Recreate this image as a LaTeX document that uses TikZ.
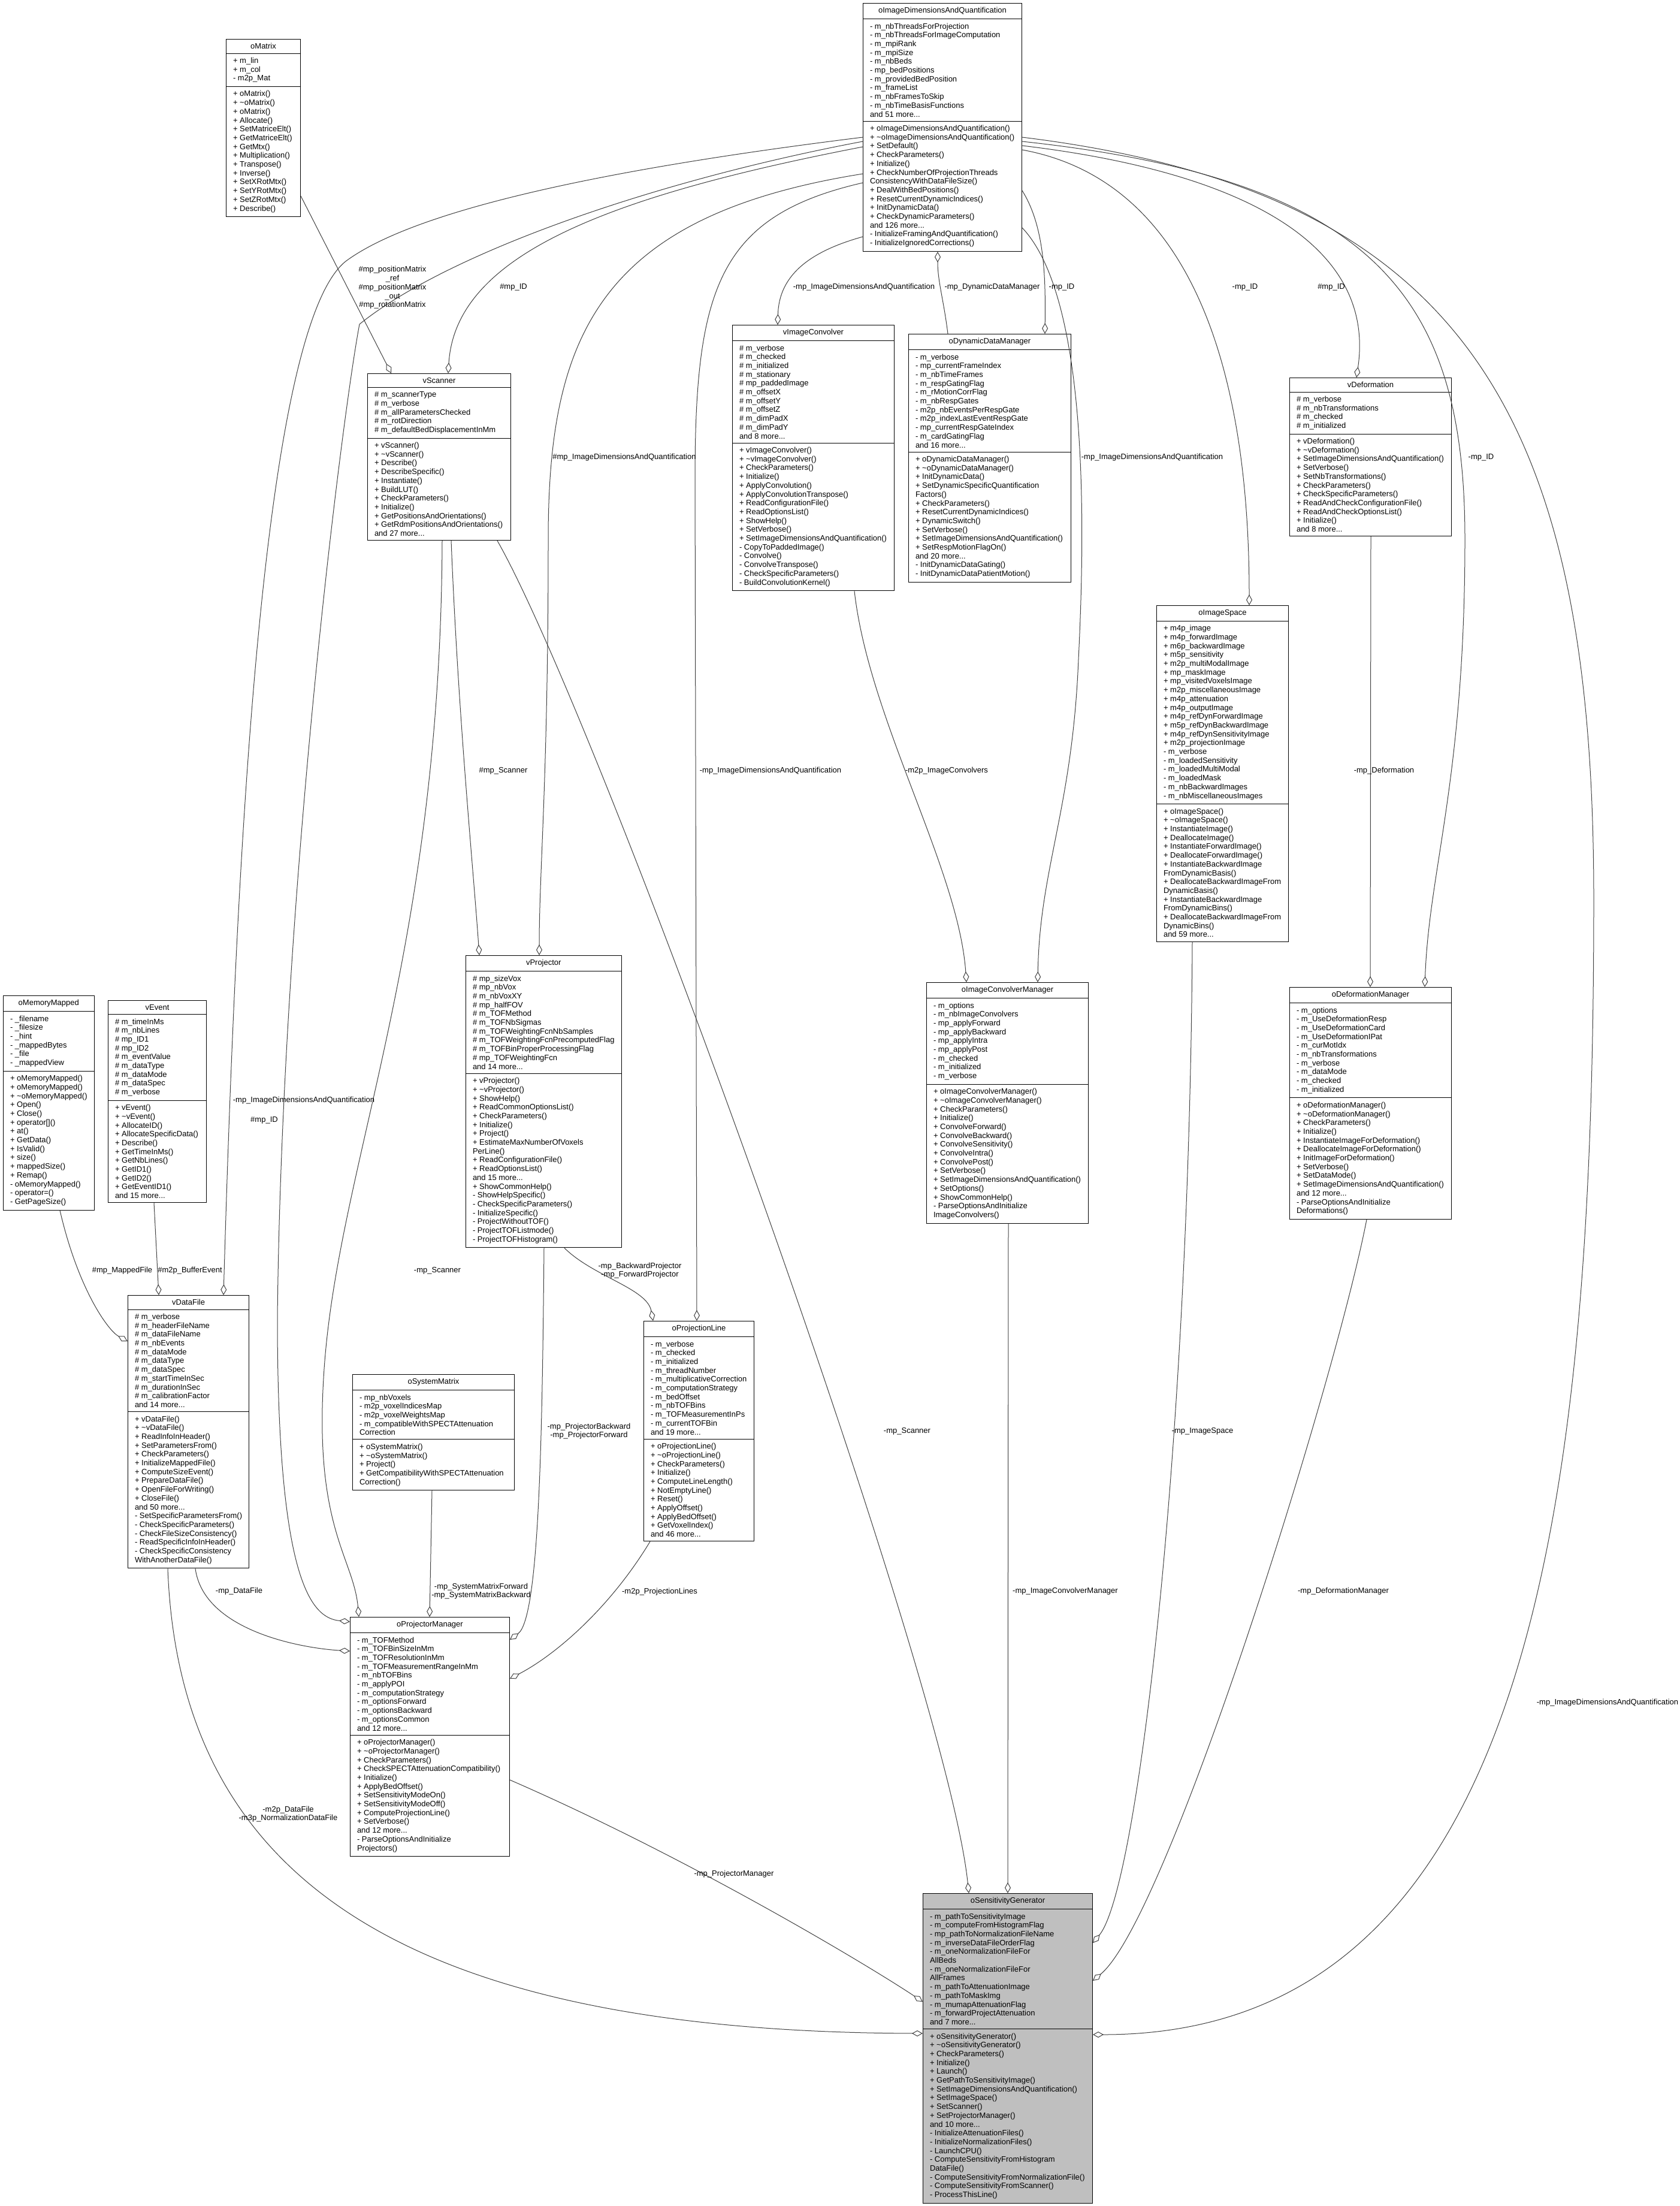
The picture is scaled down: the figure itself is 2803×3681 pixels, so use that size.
\documentclass[tikz,border=0pt]{standalone}
\usepackage{fontspec}
\setmainfont{Liberation Sans}
\usetikzlibrary{shapes.multipart, arrows.meta}
\definecolor{edgegray}{HTML}{404040}
\definecolor{hlgray}{HTML}{BFBFBF}
\newcommand{\umlfont}{\fontsize{13}{14.7}\selectfont}

\begin{document}
\begin{tikzpicture}[x=1pt, y=-1pt,
  umlclass/.style={rectangle split, rectangle split parts=3,
    rectangle split part align={center,left,left}, draw=black, line width=1pt,
    fill=white, align=left, anchor=north west, inner xsep=11.5pt, inner ysep=6.5pt,
    font=\umlfont},
  umlmain/.style={umlclass, fill=hlgray},
  uses/.style={draw=edgegray, line width=1pt, -{Diamond[open, length=18pt, width=10pt]}},
  role/.style={font=\umlfont, align=center, inner sep=0pt}]
	\useasboundingbox (0,0) rectangle (2803,3681);
	% Classes:
	\node[umlclass, minimum width=265pt] (idq) at (1440,5) {oImageDimensionsAndQuantification
		\nodepart{second}- m\_nbThreadsForProjection\\- m\_nbThreadsForImageComputation\\- m\_mpiRank\\- m\_mpiSize\\- m\_nbBeds\\- mp\_bedPositions\\- m\_providedBedPosition\\- m\_frameList\\- m\_nbFramesToSkip\\- m\_nbTimeBasisFunctions\\and 51 more...
		\nodepart{third}+ oImageDimensionsAndQuantification()\\+ \textasciitilde oImageDimensionsAndQuantification()\\+ SetDefault()\\+ CheckParameters()\\+ Initialize()\\+ CheckNumberOfProjectionThreads\\ConsistencyWithDataFileSize()\\+ DealWithBedPositions()\\+ ResetCurrentDynamicIndices()\\+ InitDynamicData()\\+ CheckDynamicParameters()\\and 126 more...\\- InitializeFramingAndQuantification()\\- InitializeIgnoredCorrections()};
	\node[umlclass, minimum width=124pt] (matrix) at (377,65) {oMatrix
		\nodepart{second}+ m\_lin\\+ m\_col\\- m2p\_Mat
		\nodepart{third}+ oMatrix()\\+ \textasciitilde oMatrix()\\+ oMatrix()\\+ Allocate()\\+ SetMatriceElt()\\+ GetMatriceElt()\\+ GetMtx()\\+ Multiplication()\\+ Transpose()\\+ Inverse()\\+ SetXRotMtx()\\+ SetYRotMtx()\\+ SetZRotMtx()\\+ Describe()};
	\node[umlclass, minimum width=239pt] (scanner) at (613,623) {vScanner
		\nodepart{second}\# m\_scannerType\\\# m\_verbose\\\# m\_allParametersChecked\\\# m\_rotDirection\\\# m\_defaultBedDisplacementInMm
		\nodepart{third}+ vScanner()\\+ \textasciitilde vScanner()\\+ Describe()\\+ DescribeSpecific()\\+ Instantiate()\\+ BuildLUT()\\+ CheckParameters()\\+ Initialize()\\+ GetPositionsAndOrientations()\\+ GetRdmPositionsAndOrientations()\\and 27 more...};
	\node[umlclass, minimum width=270pt] (convolver) at (1222,542) {vImageConvolver
		\nodepart{second}\# m\_verbose\\\# m\_checked\\\# m\_initialized\\\# m\_stationary\\\# mp\_paddedImage\\\# m\_offsetX\\\# m\_offsetY\\\# m\_offsetZ\\\# m\_dimPadX\\\# m\_dimPadY\\and 8 more...
		\nodepart{third}+ vImageConvolver()\\+ \textasciitilde vImageConvolver()\\+ CheckParameters()\\+ Initialize()\\+ ApplyConvolution()\\+ ApplyConvolutionTranspose()\\+ ReadConfigurationFile()\\+ ReadOptionsList()\\+ ShowHelp()\\+ SetVerbose()\\+ SetImageDimensionsAndQuantification()\\- CopyToPaddedImage()\\- Convolve()\\- ConvolveTranspose()\\- CheckSpecificParameters()\\- BuildConvolutionKernel()};
	\node[umlclass, minimum width=271pt] (dynamic) at (1516,557) {oDynamicDataManager
		\nodepart{second}- m\_verbose\\- mp\_currentFrameIndex\\- m\_nbTimeFrames\\- m\_respGatingFlag\\- m\_rMotionCorrFlag\\- m\_nbRespGates\\- m2p\_nbEventsPerRespGate\\- m2p\_indexLastEventRespGate\\- mp\_currentRespGateIndex\\- m\_cardGatingFlag\\and 16 more...
		\nodepart{third}+ oDynamicDataManager()\\+ \textasciitilde oDynamicDataManager()\\+ InitDynamicData()\\+ SetDynamicSpecificQuantification\\Factors()\\+ CheckParameters()\\+ ResetCurrentDynamicIndices()\\+ DynamicSwitch()\\+ SetVerbose()\\+ SetImageDimensionsAndQuantification()\\+ SetRespMotionFlagOn()\\and 20 more...\\- InitDynamicDataGating()\\- InitDynamicDataPatientMotion()};
	\node[umlclass, minimum width=270pt] (deformation) at (2152,630) {vDeformation
		\nodepart{second}\# m\_verbose\\\# m\_nbTransformations\\\# m\_checked\\\# m\_initialized
		\nodepart{third}+ vDeformation()\\+ \textasciitilde vDeformation()\\+ SetImageDimensionsAndQuantification()\\+ SetVerbose()\\+ SetNbTransformations()\\+ CheckParameters()\\+ CheckSpecificParameters()\\+ ReadAndCheckConfigurationFile()\\+ ReadAndCheckOptionsList()\\+ Initialize()\\and 8 more...};
	\node[umlclass, minimum width=220pt] (imagespace) at (1930,1010) {oImageSpace
		\nodepart{second}+ m4p\_image\\+ m4p\_forwardImage\\+ m6p\_backwardImage\\+ m5p\_sensitivity\\+ m2p\_multiModalImage\\+ mp\_maskImage\\+ mp\_visitedVoxelsImage\\+ m2p\_miscellaneousImage\\+ m4p\_attenuation\\+ m4p\_outputImage\\+ m4p\_refDynForwardImage\\+ m5p\_refDynBackwardImage\\+ m4p\_refDynSensitivityImage\\+ m2p\_projectionImage\\- m\_verbose\\- m\_loadedSensitivity\\- m\_loadedMultiModal\\- m\_loadedMask\\- m\_nbBackwardImages\\- m\_nbMiscellaneousImages
		\nodepart{third}+ oImageSpace()\\+ \textasciitilde oImageSpace()\\+ InstantiateImage()\\+ DeallocateImage()\\+ InstantiateForwardImage()\\+ DeallocateForwardImage()\\+ InstantiateBackwardImage\\FromDynamicBasis()\\+ DeallocateBackwardImageFrom\\DynamicBasis()\\+ InstantiateBackwardImage\\FromDynamicBins()\\+ DeallocateBackwardImageFrom\\DynamicBins()\\and 59 more...};
	\node[umlclass, minimum width=149pt] (mapped) at (5,1661) {oMemoryMapped
		\nodepart{second}- \_filename\\- \_filesize\\- \_hint\\- \_mappedBytes\\- \_file\\- \_mappedView
		\nodepart{third}+ oMemoryMapped()\\+ oMemoryMapped()\\+ \textasciitilde oMemoryMapped()\\+ Open()\\+ Close()\\+ operator[]()\\+ at()\\+ GetData()\\+ IsValid()\\+ size()\\+ mappedSize()\\+ Remap()\\- oMemoryMapped()\\- operator=()\\- GetPageSize()};
	\node[umlclass, minimum width=164pt] (event) at (180,1669) {vEvent
		\nodepart{second}\# m\_timeInMs\\\# m\_nbLines\\\# mp\_ID1\\\# mp\_ID2\\\# m\_eventValue\\\# m\_dataType\\\# m\_dataMode\\\# m\_dataSpec\\\# m\_verbose
		\nodepart{third}+ vEvent()\\+ \textasciitilde vEvent()\\+ AllocateID()\\+ AllocateSpecificData()\\+ Describe()\\+ GetTimeInMs()\\+ GetNbLines()\\+ GetID1()\\+ GetID2()\\+ GetEventID1()\\and 15 more...};
	\node[umlclass, minimum width=259pt] (projector) at (777,1594) {vProjector
		\nodepart{second}\# mp\_sizeVox\\\# mp\_nbVox\\\# m\_nbVoxXY\\\# mp\_halfFOV\\\# m\_TOFMethod\\\# m\_TOFNbSigmas\\\# m\_TOFWeightingFcnNbSamples\\\# m\_TOFWeightingFcnPrecomputedFlag\\\# m\_TOFBinProperProcessingFlag\\\# mp\_TOFWeightingFcn\\and 14 more...
		\nodepart{third}+ vProjector()\\+ \textasciitilde vProjector()\\+ ShowHelp()\\+ ReadCommonOptionsList()\\+ CheckParameters()\\+ Initialize()\\+ Project()\\+ EstimateMaxNumberOfVoxels\\PerLine()\\+ ReadConfigurationFile()\\+ ReadOptionsList()\\and 15 more...\\+ ShowCommonHelp()\\- ShowHelpSpecific()\\- CheckSpecificParameters()\\- InitializeSpecific()\\- ProjectWithoutTOF()\\- ProjectTOFListmode()\\- ProjectTOFHistogram()};
	\node[umlclass, minimum width=270pt] (convmanager) at (1546,1639) {oImageConvolverManager
		\nodepart{second}- m\_options\\- m\_nbImageConvolvers\\- mp\_applyForward\\- mp\_applyBackward\\- mp\_applyIntra\\- mp\_applyPost\\- m\_checked\\- m\_initialized\\- m\_verbose
		\nodepart{third}+ oImageConvolverManager()\\+ \textasciitilde oImageConvolverManager()\\+ CheckParameters()\\+ Initialize()\\+ ConvolveForward()\\+ ConvolveBackward()\\+ ConvolveSensitivity()\\+ ConvolveIntra()\\+ ConvolvePost()\\+ SetVerbose()\\+ SetImageDimensionsAndQuantification()\\+ SetOptions()\\+ ShowCommonHelp()\\- ParseOptionsAndInitialize\\ImageConvolvers()};
	\node[umlclass, minimum width=270pt] (defmanager) at (2152,1647) {oDeformationManager
		\nodepart{second}- m\_options\\- m\_UseDeformationResp\\- m\_UseDeformationCard\\- m\_UseDeformationIPat\\- m\_curMotIdx\\- m\_nbTransformations\\- m\_verbose\\- m\_dataMode\\- m\_checked\\- m\_initialized
		\nodepart{third}+ oDeformationManager()\\+ \textasciitilde oDeformationManager()\\+ CheckParameters()\\+ Initialize()\\+ InstantiateImageForDeformation()\\+ DeallocateImageForDeformation()\\+ InitImageForDeformation()\\+ SetVerbose()\\+ SetDataMode()\\+ SetImageDimensionsAndQuantification()\\and 12 more...\\- ParseOptionsAndInitialize\\Deformations()};
	\node[umlclass, minimum width=202pt] (datafile) at (213,2161) {vDataFile
		\nodepart{second}\# m\_verbose\\\# m\_headerFileName\\\# m\_dataFileName\\\# m\_nbEvents\\\# m\_dataMode\\\# m\_dataType\\\# m\_dataSpec\\\# m\_startTimeInSec\\\# m\_durationInSec\\\# m\_calibrationFactor\\and 14 more...
		\nodepart{third}+ vDataFile()\\+ \textasciitilde vDataFile()\\+ ReadInfoInHeader()\\+ SetParametersFrom()\\+ CheckParameters()\\+ InitializeMappedFile()\\+ ComputeSizeEvent()\\+ PrepareDataFile()\\+ OpenFileForWriting()\\+ CloseFile()\\and 50 more...\\- SetSpecificParametersFrom()\\- CheckSpecificParameters()\\- CheckFileSizeConsistency()\\- ReadSpecificInfoInHeader()\\- CheckSpecificConsistency\\WithAnotherDataFile()};
	\node[umlclass, minimum width=270pt] (sysmatrix) at (588,2293) {oSystemMatrix
		\nodepart{second}- mp\_nbVoxels\\- m2p\_voxelIndicesMap\\- m2p\_voxelWeightsMap\\- m\_compatibleWithSPECTAttenuation\\Correction
		\nodepart{third}+ oSystemMatrix()\\+ \textasciitilde oSystemMatrix()\\+ Project()\\+ GetCompatibilityWithSPECTAttenuation\\Correction()};
	\node[umlclass, minimum width=184pt] (projline) at (1074,2204) {oProjectionLine
		\nodepart{second}- m\_verbose\\- m\_checked\\- m\_initialized\\- m\_threadNumber\\- m\_multiplicativeCorrection\\- m\_computationStrategy\\- m\_bedOffset\\- m\_nbTOFBins\\- m\_TOFMeasurementInPs\\- m\_currentTOFBin\\and 19 more...
		\nodepart{third}+ oProjectionLine()\\+ \textasciitilde oProjectionLine()\\+ CheckParameters()\\+ Initialize()\\+ ComputeLineLength()\\+ NotEmptyLine()\\+ Reset()\\+ ApplyOffset()\\+ ApplyBedOffset()\\+ GetVoxelIndex()\\and 46 more...};
	\node[umlclass, minimum width=266pt] (projmanager) at (584,2698) {oProjectorManager
		\nodepart{second}- m\_TOFMethod\\- m\_TOFBinSizeInMm\\- m\_TOFResolutionInMm\\- m\_TOFMeasurementRangeInMm\\- m\_nbTOFBins\\- m\_applyPOI\\- m\_computationStrategy\\- m\_optionsForward\\- m\_optionsBackward\\- m\_optionsCommon\\and 12 more...
		\nodepart{third}+ oProjectorManager()\\+ \textasciitilde oProjectorManager()\\+ CheckParameters()\\+ CheckSPECTAttenuationCompatibility()\\+ Initialize()\\+ ApplyBedOffset()\\+ SetSensitivityModeOn()\\+ SetSensitivityModeOff()\\+ ComputeProjectionLine()\\+ SetVerbose()\\and 12 more...\\- ParseOptionsAndInitialize\\Projectors()};
	\node[umlmain, minimum width=283pt] (sensgen) at (1540,3159) {oSensitivityGenerator
		\nodepart{second}- m\_pathToSensitivityImage\\- m\_computeFromHistogramFlag\\- mp\_pathToNormalizationFileName\\- m\_inverseDataFileOrderFlag\\- m\_oneNormalizationFileFor\\AllBeds\\- m\_oneNormalizationFileFor\\AllFrames\\- m\_pathToAttenuationImage\\- m\_pathToMaskImg\\- m\_mumapAttenuationFlag\\- m\_forwardProjectAttenuation\\and 7 more...
		\nodepart{third}+ oSensitivityGenerator()\\+ \textasciitilde oSensitivityGenerator()\\+ CheckParameters()\\+ Initialize()\\+ Launch()\\+ GetPathToSensitivityImage()\\+ SetImageDimensionsAndQuantification()\\+ SetImageSpace()\\+ SetScanner()\\+ SetProjectorManager()\\and 10 more...\\- InitializeAttenuationFiles()\\- InitializeNormalizationFiles()\\- LaunchCPU()\\- ComputeSensitivityFromHistogram\\DataFile()\\- ComputeSensitivityFromNormalizationFile()\\- ComputeSensitivityFromScanner()\\- ProcessThisLine()};
	% Links, diamond on the owner side:
	\draw[uses] ([yshift=-262pt]matrix.north east) -- ([xshift=40pt]scanner.north west);
	\draw[uses] ([yshift=-240pt]idq.north west) .. controls (1000,330) and (760,430) .. ([xshift=135pt]scanner.north west);
	\draw[uses] ([yshift=-224pt]idq.north west) .. controls (1150,265) and (720,330) .. (577,436) .. controls (440,545) and (395,1400) .. ([xshift=160pt]datafile.north west);
	\draw[uses] ([yshift=-231pt]idq.north west) .. controls (1100,300) and (750,420) .. (600,541) .. controls (570,700) and (470,1500) .. (463,2200) .. controls (463,2640) and (520,2700) .. ([yshift=-8pt]projmanager.north west);
	\draw[uses] ([yshift=-285pt]idq.north west) .. controls (1000,360) and (915,560) .. (915,900) .. controls (915,1300) and (900,1450) .. ([xshift=123pt]projector.north west);
	\draw[uses] ([yshift=-300pt]idq.north west) .. controls (1200,360) and (1160,480) .. (1160,800) -- ([xshift=89pt]projline.north west);
	\draw[uses] ([yshift=-390pt]idq.north west) .. controls (1350,420) and (1300,460) .. ([xshift=76pt]convolver.north west);
	\draw[uses] ([xshift=66pt]dynamic.north west) .. controls (1575,500) and (1565,470) .. ([xshift=125pt]idq.south west);
	\draw[uses] ([yshift=-313pt]idq.north east) .. controls (1745,380) and (1745,470) .. ([xshift=228pt]dynamic.north west);
	\draw[uses] ([yshift=-375pt]idq.north east) .. controls (1820,500) and (1810,900) .. (1800,1100) .. controls (1790,1350) and (1735,1450) .. ([xshift=186pt]convmanager.north west);
	\draw[uses] ([yshift=-245pt]idq.north east) .. controls (1980,300) and (2085,600) .. ([xshift=155pt]imagespace.north west);
	\draw[uses] ([yshift=-238pt]idq.north east) .. controls (2100,290) and (2295,420) .. ([xshift=112pt]deformation.north west);
	\draw[uses] ([yshift=-231pt]idq.north east) .. controls (2300,300) and (2445,500) .. (2445,900) .. controls (2445,1300) and (2385,1450) .. ([xshift=226pt]defmanager.north west);
	\draw[uses] ([yshift=-224pt]idq.north east) .. controls (2450,320) and (2660,700) .. (2660,1500) .. controls (2660,2500) and (2560,3395) .. ([yshift=-236pt]sensgen.north east);
	\draw[uses] ([xshift=136pt]deformation.south west) -- ([xshift=135pt]defmanager.north west);
	\draw[uses] ([xshift=204pt]convolver.south west) .. controls (1450,1200) and (1600,1450) .. ([xshift=67pt]convmanager.north west);
	\draw[uses] ([xshift=140pt]scanner.south west) .. controls (765,1200) and (790,1450) .. ([xshift=23pt]projector.north west);
	\draw[uses] ([xshift=125pt]scanner.south west) .. controls (735,1600) and (560,1950) .. (540,2300) .. controls (525,2550) and (590,2600) .. ([xshift=15pt]projmanager.north west);
	\draw[uses] ([xshift=217pt]scanner.south west) .. controls (1000,1200) and (1580,2800) .. ([xshift=77pt]sensgen.north west);
	\draw[uses] ([xshift=165pt]projector.south west) .. controls (990,2130) and (1080,2150) .. ([xshift=16pt]projline.north west);
	\draw[uses] ([xshift=131pt]projector.south west) .. controls (905,2400) and (900,2700) .. ([yshift=-38pt]projmanager.north east);
	\draw[uses] ([xshift=133pt]sysmatrix.south west) -- ([xshift=133pt]projmanager.north west);
	\draw[uses] ([xshift=11pt]projline.south west) .. controls (1020,2680) and (930,2760) .. ([yshift=-103pt]projmanager.north east);
	\draw[uses] ([xshift=95pt]mapped.south west) .. controls (130,2150) and (180,2220) .. ([yshift=-77pt]datafile.north west);
	\draw[uses] ([xshift=77pt]event.south west) -- ([xshift=52pt]datafile.north west);
	\draw[uses] ([xshift=113pt]datafile.south west) .. controls (340,2720) and (500,2750) .. ([yshift=-57pt]projmanager.north west);
	\draw[uses] ([xshift=67pt]datafile.south west) .. controls (300,3150) and (700,3390) .. ([yshift=-234pt]sensgen.north west);
	\draw[uses] ([yshift=-272pt]projmanager.north east) .. controls (1150,3100) and (1450,3280) .. ([yshift=-181pt]sensgen.north west);
	\draw[uses] ([xshift=137pt]convmanager.south west) -- ([xshift=142pt]sensgen.north west);
	\draw[uses] ([xshift=60pt]imagespace.south west) .. controls (1985,2400) and (1900,3150) .. ([yshift=-83pt]sensgen.north east);
	\draw[uses] ([xshift=129pt]defmanager.south west) .. controls (2230,2300) and (1950,3200) .. ([yshift=-146pt]sensgen.north east);
	% Link labels:
	\node[role] (lposmat) at (655,480) {\#mp\_positionMatrix\\\_ref\\\#mp\_positionMatrix\\\_out\\\#mp\_rotationMatrix};
	\node[role] (lscanid) at (857,479) {\#mp\_ID};
	\node[role] (lconvidq) at (1442,479) {-mp\_ImageDimensionsAndQuantification};
	\node[role] (ldynmgr) at (1656,479) {-mp\_DynamicDataManager};
	\node[role] (ldynid) at (1772,479) {-mp\_ID};
	\node[role] (lspaceid) at (2078,479) {-mp\_ID};
	\node[role] (ldefid) at (2222,479) {\#mp\_ID};
	\node[role] (lprojidq) at (1042,763) {\#mp\_ImageDimensionsAndQuantification};
	\node[role] (lconvmgridq) at (1923,763) {-mp\_ImageDimensionsAndQuantification};
	\node[role] (ldefmgrid) at (2472,763) {-mp\_ID};
	\node[role] (lprojscan) at (840,1286) {\#mp\_Scanner};
	\node[role] (llineidq) at (1286,1286) {-mp\_ImageDimensionsAndQuantification};
	\node[role] (lconvs) at (1580,1286) {-m2p\_ImageConvolvers};
	\node[role] (ldeform) at (2310,1286) {-mp\_Deformation};
	\node[role] (lpmidq) at (507,1836) {-mp\_ImageDimensionsAndQuantification};
	\node[role] (ldataid) at (441,1869) {\#mp\_ID};
	\node[role] (lmapped) at (204,2120) {\#mp\_MappedFile};
	\node[role] (lbuffer) at (317,2120) {\#m2p\_BufferEvent};
	\node[role] (lpmscan) at (730,2120) {-mp\_Scanner};
	\node[role] (lfwdbwd) at (1068,2120) {-mp\_BackwardProjector\\-mp\_ForwardProjector};
	\node[role] (lsgscan) at (1514,2388) {-mp\_Scanner};
	\node[role] (lpmproj) at (983,2388) {-mp\_ProjectorBackward\\-mp\_ProjectorForward};
	\node[role] (lspace) at (2007,2388) {-mp\_ImageSpace};
	\node[role] (ldata) at (399,2655) {-mp\_DataFile};
	\node[role] (lsysmat) at (803,2655) {-mp\_SystemMatrixForward\\-mp\_SystemMatrixBackward};
	\node[role] (llines) at (1101,2656) {-m2p\_ProjectionLines};
	\node[role] (lconvmgr) at (1778,2655) {-mp\_ImageConvolverManager};
	\node[role] (ldefmgr) at (2242,2655) {-mp\_DeformationManager};
	\node[role] (lsgidq) at (2683,2841) {-mp\_ImageDimensionsAndQuantification};
	\node[role] (lsgdata) at (481,3027) {-m2p\_DataFile\\-m3p\_NormalizationDataFile};
	\node[role] (lpm) at (1225,3127) {-mp\_ProjectorManager};
\end{tikzpicture}
\end{document}
